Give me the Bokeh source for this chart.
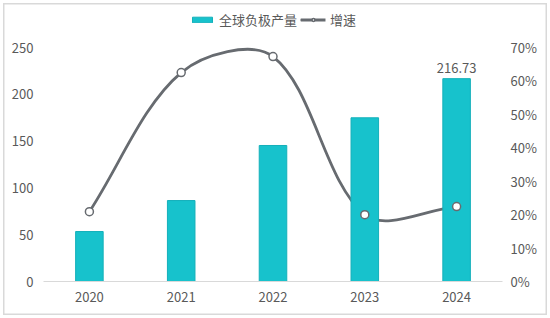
from bokeh.plotting import figure
from bokeh.models import (Range1d, FactorRange, LinearAxis, FixedTicker, NumeralTickFormatter,
                          Legend, LegendItem, ColumnDataSource, InlineStyleSheet)
from bokeh.core.properties import value
from bokeh.embed import file_html
from bokeh.resources import INLINE
import math

# ---- data ----
categories = ["2020", "2021", "2022", "2023", "2024"]
production = [53.4, 86.5, 145.3, 174.9, 216.73]      # 全球负极产量
growth = [0.209, 0.625, 0.673, 0.200, 0.224]          # 增速
left_ticks = [0, 50, 100, 150, 200, 250]
right_ticks = [0, 0.1, 0.2, 0.3, 0.4, 0.5, 0.6, 0.7]

FONT = "Noto Sans CJK SC"
TXT = "#595959"
BAR = "#17C2CC"
LINE = "#676b70"

W, H = 550, 318
fl, fr, ft, fb = 43, 502, 8, 281          # frame edges in canvas px
fw, fh = fr - fl, fb - ft
top_tick_px = 47                          # where 250 / 70% sit
scale = fh / (fb - top_tick_px)
y_end = left_ticks[-1] * scale
y2_end = right_ticks[-1] * scale

p = figure(width=W, height=H, x_range=FactorRange(factors=categories, range_padding=0),
           y_range=Range1d(0, y_end), output_backend="svg", toolbar_location=None,
           min_border_left=fl, min_border_right=W - fr, min_border_top=ft,
           min_border_bottom=H - fb)
p.extra_y_ranges = {"pct": Range1d(0, y2_end)}
p.outline_line_color = None
p.xgrid.visible = False
p.ygrid.visible = False
p.background_fill_color = "white"
p.border_fill_alpha = 0
p.stylesheets = [InlineStyleSheet(css=":host { background-color: white; "
                                      "box-shadow: inset 0 0 0 3px white, inset 0 0 0 4.5px #d9d9d9; }")]

# smooth line (Excel-like smoothing) as bezier segments in data space
xs = [i + 0.5 for i in range(len(categories))]
px_x = fw / len(categories)
px_y = fh / y2_end
def dist(a, b):
    return math.hypot((xs[b] - xs[a]) * px_x, (growth[b] - growth[a]) * px_y)
n = len(xs)
bz = dict(x0=[], y0=[], x1=[], y1=[], cx0=[], cy0=[], cx1=[], cy1=[])
for i in range(n - 1):
    a, b = i, i + 1
    pa, pb = max(a - 1, 0), min(b + 1, n - 1)
    d_ab = dist(a, b)
    d_pa = dist(pa, a)
    d_bp = dist(b, pb)
    f1 = d_ab / (d_pa + d_ab) / 3
    f2 = d_ab / (d_ab + d_bp) / 3
    bz["x0"].append(xs[a]); bz["y0"].append(growth[a])
    bz["x1"].append(xs[b]); bz["y1"].append(growth[b])
    bz["cx0"].append(xs[a] + (xs[b] - xs[pa]) * f1)
    bz["cy0"].append(growth[a] + (growth[b] - growth[pa]) * f1)
    bz["cx1"].append(xs[b] - (xs[pb] - xs[a]) * f2)
    bz["cy1"].append(growth[b] - (growth[pb] - growth[a]) * f2)

line_r = p.bezier(source=ColumnDataSource(bz), x0="x0", y0="y0", x1="x1", y1="y1",
                  cx0="cx0", cy0="cy0", cx1="cx1", cy1="cy1",
                  line_color=LINE, line_width=2.8, line_cap="round", y_range_name="pct")

bars = p.vbar(x=categories, top=production, width=0.3, fill_color=BAR,
              line_color="#14B0BA", line_width=1)

marks = p.scatter(x=categories, y=growth, size=8, marker="circle", fill_color="white",
                  line_color=LINE, line_width=1.5, y_range_name="pct")

p.text(x=[categories[-1]], y=[production[-1]], text=[f"{production[-1]:.2f}"],
       text_align="center", text_baseline="bottom", y_offset=-6,
       text_font=value(FONT), text_font_size="13px", text_color=TXT)

# axes
xa = p.xaxis[0]
xa.axis_line_color = "#d9d9d9"
xa.major_tick_line_color = None
xa.minor_tick_line_color = None
xa.major_tick_out = 0
xa.major_label_standoff = 10
xa.major_label_text_font = FONT
xa.major_label_text_font_size = "13px"
xa.major_label_text_color = TXT

ya = p.yaxis[0]
ya.ticker = FixedTicker(ticks=left_ticks)
ya.axis_line_color = None
ya.major_tick_line_color = None
ya.minor_tick_line_color = None
ya.major_tick_out = 0
ya.major_label_standoff = 10
ya.major_label_text_font = FONT
ya.major_label_text_font_size = "13px"
ya.major_label_text_color = TXT

ra = LinearAxis(y_range_name="pct", ticker=FixedTicker(ticks=right_ticks),
                formatter=NumeralTickFormatter(format="0%"))
ra.axis_line_color = None
ra.major_tick_line_color = None
ra.minor_tick_line_color = None
ra.major_tick_out = 0
ra.major_label_standoff = 8
ra.major_label_text_font = FONT
ra.major_label_text_font_size = "13px"
ra.major_label_text_color = TXT
p.add_layout(ra, "right")

legend = Legend(items=[LegendItem(label="全球负极产量", renderers=[bars]),
                       LegendItem(label="增速", renderers=[line_r, marks])],
                orientation="horizontal", location="top_center",
                glyph_width=25, glyph_height=7, label_standoff=5, spacing=3,
                padding=5, margin=2, border_line_color=None, background_fill_alpha=0,
                label_text_font=FONT, label_text_font_size="13px", label_text_color=TXT)
p.add_layout(legend)

open("out.html", "w").write(file_html(p, INLINE))
